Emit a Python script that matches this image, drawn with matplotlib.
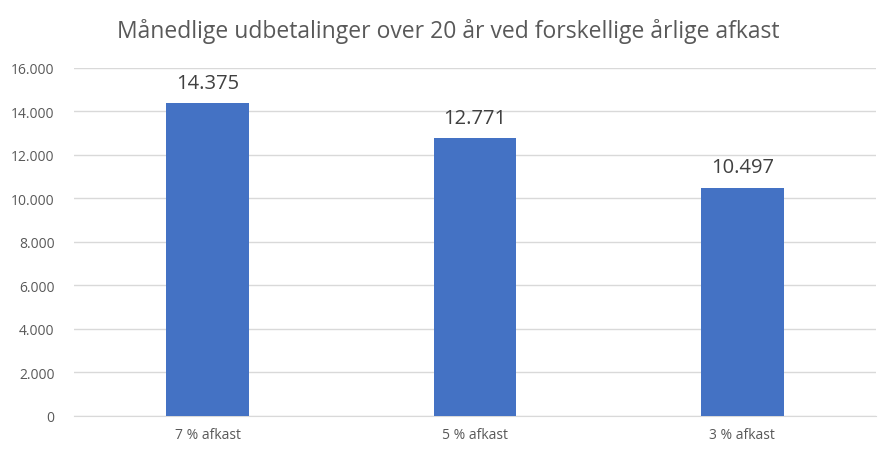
import matplotlib
matplotlib.use("Agg")
import matplotlib.pyplot as plt
from matplotlib.ticker import FuncFormatter, MultipleLocator

categories = ["7 % afkast", "5 % afkast", "3 % afkast"]
values = [14375, 12771, 10497]
title = "Månedlige udbetalinger over 20 år ved forskellige årlige afkast"

plt.rcParams['font.family'] = ['Open Sans', 'DejaVu Sans']
txt = '#595959'

fig = plt.figure(figsize=(8.96, 4.6), dpi=100)
ax = fig.add_axes([0.0826, 0.0935, 0.895, 0.7565])

x = range(len(categories))
bars = ax.bar(x, values, width=0.31, color='#4472C4', zorder=3)

def dk(v):
    return f"{int(round(v)):,}".replace(",", ".")

for xi, v in zip(x, values):
    ax.text(xi, v + 480, dk(v), ha='center', va='bottom', fontsize=14.5, color='#404040')

ax.set_ylim(0, 16000)
ax.set_xlim(-0.5, 2.5)
ax.yaxis.set_major_locator(MultipleLocator(2000))
ax.yaxis.set_major_formatter(FuncFormatter(lambda v, p: dk(v)))
ax.set_xticks(list(x))
ax.set_xticklabels(categories)
ax.grid(axis='y', color='#D9D9D9', linewidth=1, zorder=0)
for s in ['top', 'right', 'left']:
    ax.spines[s].set_visible(False)
ax.spines['bottom'].set_color('#D9D9D9')
ax.tick_params(axis='both', length=0, labelsize=10, colors=txt, pad=8)
ax.tick_params(axis='y', pad=14)

fig.text(0.5, 0.932, title, ha='center', va='center', fontsize=16.5, color=txt)

fig.savefig("out.png", dpi=100)
